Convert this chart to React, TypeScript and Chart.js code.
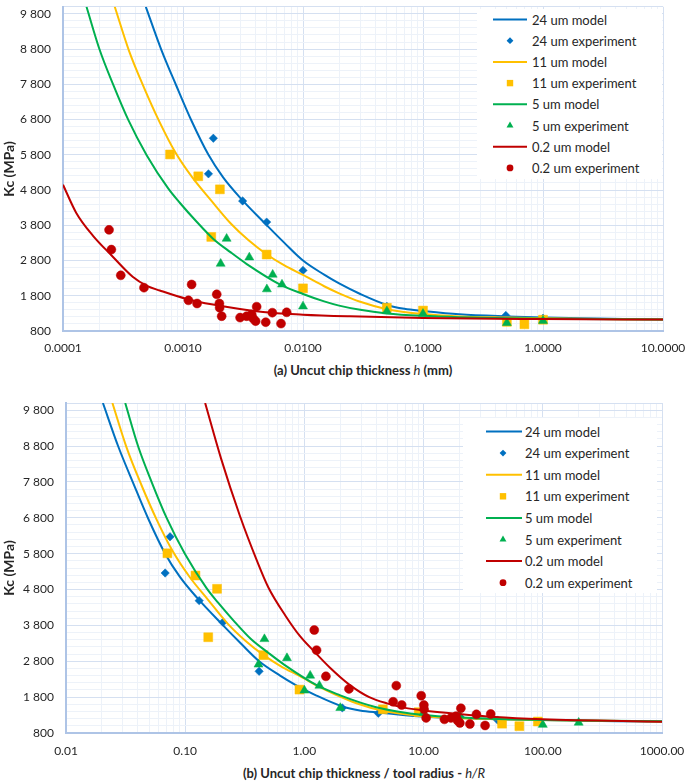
import React, { useEffect, useRef } from 'react';
import { Chart, registerables } from 'chart.js';

Chart.register(...registerables);

const FONT = "Lato, 'Open Sans', 'DejaVu Sans', sans-serif";
const TEXT = '#262626';
const GRID_MAJOR = '#d5e0f1';
const GRID_MINOR = '#edf2f9';
const AXIS_LINE = '#aec4e6';

const BLUE = '#0070C0';
const YELLOW = '#FFC000';
const GREEN = '#00B050';
const RED = '#C00000';

const SERIES_LABELS = [
  '24 um model',
  '24 um experiment',
  '11 um model',
  '11 um experiment',
  '5 um model',
  '5 um experiment',
  '0.2 um model',
  '0.2 um experiment',
];

// ---- axes ----
const Y_MIN = 800;
const Y_MAX = 10000;
const Y_MINOR_STEP = 200;
const Y_TICK_VALUES = [800, 1800, 2800, 3800, 4800, 5800, 6800, 7800, 8800, 9800];
const Y_TICK_LABELS = ['800', '1 800', '2 800', '3 800', '4 800', '5 800', '6 800', '7 800', '8 800', '9 800'];

const X_TOP_TICK_VALUES = [0.0001, 0.001, 0.01, 0.1, 1, 10];
const X_TOP_TICK_LABELS = ['0.0001', '0.0010', '0.0100', '0.1000', '1.0000', '10.0000'];
const X_BOTTOM_TICK_VALUES = [0.01, 0.1, 1, 10, 100, 1000];
const X_BOTTOM_TICK_LABELS = ['0.01', '0.10', '1.00', '10.00', '100.00', '1000.00'];

// ---- (a) Kc vs uncut chip thickness h (mm) ----
const A_BLUE_MODEL_H = [0.00049, 0.00066, 0.00088, 0.00118, 0.00163, 0.00216, 0.003, 0.005, 0.007, 0.01, 0.015, 0.02, 0.03, 0.05, 0.07, 0.1, 0.2, 0.5, 1, 10];
const A_BLUE_MODEL_K = [10000, 8780, 7760, 6760, 5800, 5160, 4580, 3800, 3300, 2800, 2400, 2150, 1850, 1540, 1430, 1370, 1275, 1215, 1185, 1125];
const A_BLUE_EXP_H = [0.00163, 0.00179, 0.00314, 0.00498, 0.01, 0.05, 0.1, 0.49, 1.0];
const A_BLUE_EXP_K = [5260, 6270, 4490, 3890, 2520, 1500, 1350, 1240, 1160];

const A_YELLOW_MODEL_H = [0.00027, 0.000355, 0.000474, 0.000634, 0.00086, 0.0012, 0.0017, 0.0025, 0.0035, 0.005, 0.007, 0.01, 0.015, 0.02, 0.03, 0.05, 0.1, 0.2, 0.5, 1, 10];
const A_YELLOW_MODEL_K = [10000, 8750, 7700, 6750, 5880, 5150, 4520, 3850, 3380, 2970, 2660, 2390, 2070, 1870, 1630, 1420, 1280, 1215, 1180, 1160, 1125];
const A_YELLOW_EXP_H = [0.00078, 0.00134, 0.00203, 0.00172, 0.00498, 0.01, 0.05, 0.1, 0.5, 0.7, 1.0];
const A_YELLOW_EXP_K = [5810, 5190, 4820, 3470, 2970, 2010, 1460, 1380, 1060, 990, 1120];

const A_GREEN_MODEL_H = [0.000157, 0.000202, 0.000262, 0.00035, 0.000498, 0.000755, 0.00094, 0.0013, 0.00178, 0.0025, 0.0034, 0.0064, 0.01, 0.015, 0.02, 0.03, 0.05, 0.1, 0.2, 0.5, 1, 10];
const A_GREEN_MODEL_K = [10000, 8780, 7790, 6790, 5790, 4840, 4440, 3900, 3420, 3030, 2700, 2125, 1850, 1640, 1520, 1400, 1300, 1230, 1190, 1160, 1150, 1125];
const A_GREEN_EXP_H = [0.00231, 0.00206, 0.00357, 0.00559, 0.00668, 0.005, 0.01, 0.05, 0.1, 0.5, 1.0];
const A_GREEN_EXP_K = [3420, 2710, 2890, 2400, 2120, 1985, 1500, 1365, 1290, 1030, 1090];

const A_RED_MODEL_H = [0.0001, 0.000129, 0.000178, 0.000253, 0.000383, 0.0005, 0.00064, 0.00107, 0.00178, 0.00464, 0.01, 0.0245, 0.1, 1, 10];
const A_RED_MODEL_K = [4950, 4150, 3500, 2950, 2330, 2080, 1950, 1710, 1550, 1336, 1264, 1217, 1170, 1140, 1125];
const A_RED_EXP_H = [0.000242, 0.000253, 0.000303, 0.000473, 0.00118, 0.00111, 0.00131, 0.00191, 0.00201, 0.00202, 0.0021, 0.00299, 0.00339, 0.00374, 0.00411, 0.00385, 0.00403, 0.00489, 0.00555, 0.00656, 0.00731];
const A_RED_EXP_K = [3670, 3110, 2380, 2030, 2120, 1670, 1580, 1840, 1580, 1460, 1220, 1180, 1220, 1270, 1490, 1150, 1080, 1050, 1320, 1010, 1330];

// ---- (b) Kc vs uncut chip thickness / tool radius h/R ----
const B_BLUE_MODEL_X = [0.0204, 0.0275, 0.0367, 0.0492, 0.0679, 0.09, 0.125, 0.208, 0.292, 0.417, 0.625, 0.833, 1.25, 2.08, 2.92, 4.17, 8.33, 20.8, 41.7, 417, 1000];
const B_BLUE_MODEL_K = [10000, 8780, 7760, 6760, 5800, 5160, 4580, 3800, 3300, 2800, 2400, 2150, 1850, 1540, 1430, 1370, 1275, 1215, 1185, 1125, 1120];
const B_BLUE_EXP_X = [0.0679, 0.0746, 0.131, 0.2075, 0.417, 2.08, 4.17, 20.4, 41.7];
const B_BLUE_EXP_K = [5260, 6270, 4490, 3890, 2520, 1500, 1350, 1240, 1160];

const B_YELLOW_MODEL_X = [0.0245, 0.0323, 0.0431, 0.0576, 0.0782, 0.109, 0.155, 0.227, 0.318, 0.455, 0.636, 0.909, 1.36, 1.82, 2.73, 4.55, 9.09, 18.2, 45.5, 90.9, 1000];
const B_YELLOW_MODEL_K = [10000, 8750, 7700, 6750, 5880, 5150, 4520, 3850, 3380, 2970, 2660, 2390, 2070, 1870, 1630, 1420, 1280, 1215, 1180, 1160, 1122];
const B_YELLOW_EXP_X = [0.0709, 0.122, 0.185, 0.156, 0.453, 0.909, 4.55, 9.09, 45.5, 63.6, 90.9];
const B_YELLOW_EXP_K = [5810, 5190, 4820, 3470, 2970, 2010, 1460, 1380, 1060, 990, 1120];

const B_GREEN_MODEL_X = [0.0314, 0.0404, 0.0524, 0.07, 0.0996, 0.151, 0.188, 0.26, 0.356, 0.5, 0.68, 1.28, 2, 3, 4, 6, 10, 20, 40, 100, 200, 1000];
const B_GREEN_MODEL_K = [10000, 8780, 7790, 6790, 5790, 4840, 4440, 3900, 3420, 3030, 2700, 2125, 1850, 1640, 1520, 1400, 1300, 1230, 1190, 1160, 1150, 1128];
const B_GREEN_EXP_X = [0.462, 0.412, 0.714, 1.118, 1.336, 1.0, 2.0, 10, 20, 100, 200];
const B_GREEN_EXP_K = [3420, 2710, 2890, 2400, 2120, 1985, 1500, 1365, 1290, 1030, 1090];

const B_RED_MODEL_X = [0.147, 0.2, 0.288, 0.398, 0.5, 0.7, 0.919, 1.227, 1.64, 2.38, 3.5, 5, 7, 10, 20, 40, 100, 1000];
const B_RED_MODEL_K = [10000, 8450, 6850, 5620, 4850, 4050, 3500, 3050, 2620, 2150, 1800, 1620, 1500, 1430, 1330, 1245, 1185, 1115];
const B_RED_EXP_X = [1.21, 1.265, 1.515, 2.365, 5.9, 5.55, 6.55, 9.55, 10.05, 10.1, 10.5, 14.95, 16.95, 18.7, 20.55, 19.25, 20.15, 24.45, 27.75, 32.8, 36.55];
const B_RED_EXP_K = [3670, 3110, 2380, 2030, 2120, 1670, 1580, 1840, 1580, 1460, 1220, 1180, 1220, 1270, 1490, 1150, 1080, 1050, 1320, 1010, 1330];

type SeriesSpec = {
  x: number[];
  y: number[];
  kind: 'line' | 'point';
  color: string;
  style?: string;
  radius?: number;
};

const STYLE = [
  { kind: 'line', color: BLUE },
  { kind: 'point', color: BLUE, style: 'rectRot', radius: 4.2 },
  { kind: 'line', color: YELLOW },
  { kind: 'point', color: YELLOW, style: 'rect', radius: 6.3 },
  { kind: 'line', color: GREEN },
  { kind: 'point', color: GREEN, style: 'triangle', radius: 5.2 },
  { kind: 'line', color: RED },
  { kind: 'point', color: RED, style: 'circle', radius: 4.5 },
];

function makeSeries(pairs: [number[], number[]][]): SeriesSpec[] {
  return pairs.map(([x, y], i) => ({ x, y, ...(STYLE[i] as any) }));
}

const SERIES_A = makeSeries([
  [A_BLUE_MODEL_H, A_BLUE_MODEL_K],
  [A_BLUE_EXP_H, A_BLUE_EXP_K],
  [A_YELLOW_MODEL_H, A_YELLOW_MODEL_K],
  [A_YELLOW_EXP_H, A_YELLOW_EXP_K],
  [A_GREEN_MODEL_H, A_GREEN_MODEL_K],
  [A_GREEN_EXP_H, A_GREEN_EXP_K],
  [A_RED_MODEL_H, A_RED_MODEL_K],
  [A_RED_EXP_H, A_RED_EXP_K],
]);

const SERIES_B = makeSeries([
  [B_BLUE_MODEL_X, B_BLUE_MODEL_K],
  [B_BLUE_EXP_X, B_BLUE_EXP_K],
  [B_YELLOW_MODEL_X, B_YELLOW_MODEL_K],
  [B_YELLOW_EXP_X, B_YELLOW_EXP_K],
  [B_GREEN_MODEL_X, B_GREEN_MODEL_K],
  [B_GREEN_EXP_X, B_GREEN_EXP_K],
  [B_RED_MODEL_X, B_RED_MODEL_K],
  [B_RED_EXP_X, B_RED_EXP_K],
]);

function logGrid(decades: number[]): number[] {
  const out: number[] = [];
  for (let i = 0; i < decades.length - 1; i++) {
    for (let m = 1; m <= 9; m++) out.push(Number((decades[i] * m).toPrecision(6)));
  }
  out.push(decades[decades.length - 1]);
  return out;
}

function linearGrid(): number[] {
  const out: number[] = [];
  for (let v = Y_MIN; v <= Y_MAX; v += Y_MINOR_STEP) out.push(v);
  return out;
}

function findIndex(values: number[], v: number): number {
  return values.findIndex((d) => Math.abs(v / d - 1) < 1e-6);
}

type PanelSpec = {
  series: SeriesSpec[];
  xTicks: number[];
  xLabels: string[];
  yAxisWidth: number;
  padRight: number;
  padTop: number;
  xAxisHeight: number;
  xTickPad: number;
  height: number;
};

function buildConfig(p: PanelSpec): any {
  const xGrid = logGrid(p.xTicks);
  const yGrid = linearGrid();
  const datasets = p.series.map((s, i) => {
    const data = s.x.map((xv, j) => ({ x: xv, y: s.y[j] }));
    const order = 8 - i;
    if (s.kind === 'line') {
      return {
        label: SERIES_LABELS[i],
        data,
        showLine: true,
        borderColor: s.color,
        backgroundColor: s.color,
        borderWidth: 2,
        pointRadius: 0,
        pointHoverRadius: 0,
        cubicInterpolationMode: 'monotone',
        fill: false,
        order,
      };
    }
    return {
      label: SERIES_LABELS[i],
      data,
      showLine: false,
      pointStyle: s.style,
      pointRadius: s.radius,
      pointHoverRadius: s.radius,
      pointBackgroundColor: s.color,
      pointBorderColor: s.color,
      pointBorderWidth: 0.5,
      clip: false,
      order,
    };
  });

  return {
    type: 'scatter',
    data: { datasets },
    options: {
      responsive: false,
      animation: false,
      events: [],
      layout: { padding: { left: 0, right: p.padRight, top: p.padTop, bottom: 0 } },
      plugins: { legend: { display: false }, tooltip: { enabled: false } },
      scales: {
        x: {
          type: 'logarithmic',
          min: p.xTicks[0],
          max: p.xTicks[p.xTicks.length - 1],
          afterBuildTicks: (axis: any) => {
            axis.ticks = xGrid.map((v) => ({ value: v }));
          },
          afterFit: (axis: any) => {
            axis.height = p.xAxisHeight;
            axis.paddingLeft = 0;
            axis.paddingRight = 0;
          },
          ticks: {
            autoSkip: false,
            maxRotation: 0,
            minRotation: 0,
            padding: p.xTickPad,
            color: TEXT,
            font: { family: FONT, size: 12 },
            callback: (v: number) => {
              const k = findIndex(p.xTicks, v);
              return k >= 0 ? p.xLabels[k] : '';
            },
          },
          grid: {
            drawTicks: false,
            lineWidth: 1,
            color: (ctx: any) => (ctx.tick && findIndex(p.xTicks, ctx.tick.value) >= 0 ? GRID_MAJOR : GRID_MINOR),
          },
          border: { color: AXIS_LINE, width: 2 },
        },
        y: {
          type: 'linear',
          min: Y_MIN,
          max: Y_MAX,
          afterBuildTicks: (axis: any) => {
            axis.ticks = yGrid.map((v) => ({ value: v }));
          },
          afterFit: (axis: any) => {
            axis.width = p.yAxisWidth;
            axis.paddingTop = 0;
            axis.paddingBottom = 0;
          },
          ticks: {
            autoSkip: false,
            padding: 12,
            color: TEXT,
            font: { family: FONT, size: 12 },
            callback: (v: number) => {
              const k = Y_TICK_VALUES.indexOf(v);
              return k >= 0 ? Y_TICK_LABELS[k] : '';
            },
          },
          grid: {
            drawTicks: false,
            lineWidth: 1,
            color: (ctx: any) =>
              ctx.tick && (Y_TICK_VALUES.indexOf(ctx.tick.value) >= 0 || ctx.tick.value === Y_MAX) ? GRID_MAJOR : GRID_MINOR,
          },
          border: { color: AXIS_LINE, width: 2 },
          title: {
            display: true,
            text: 'Kc (MPa)',
            color: TEXT,
            font: { family: FONT, size: 14, weight: 'bold' },
            padding: { top: 1, bottom: 0 },
          },
        },
      },
    },
  };
}

function Panel({ spec, top }: { spec: PanelSpec; top: number }) {
  const ref = useRef<HTMLCanvasElement>(null);
  useEffect(() => {
    const chart = new Chart(ref.current as HTMLCanvasElement, buildConfig(spec));
    return () => chart.destroy();
  }, []);
  return (
    <canvas
      ref={ref}
      width={685}
      height={spec.height}
      style={{ position: 'absolute', left: 0, top, width: 685, height: spec.height }}
    />
  );
}

function Marker({ style, color, cx, cy }: { style: string; color: string; cx: number; cy: number }) {
  if (style === 'rectRot') {
    const r = 3.4;
    return <polygon points={`${cx},${cy - r} ${cx + r},${cy} ${cx},${cy + r} ${cx - r},${cy}`} fill={color} />;
  }
  if (style === 'rect') {
    const h = 3.2;
    return <rect x={cx - h} y={cy - h} width={2 * h} height={2 * h} fill={color} />;
  }
  if (style === 'triangle') {
    const r = 4;
    return (
      <polygon
        points={`${cx},${cy - r} ${cx + r * 0.866},${cy + r * 0.5} ${cx - r * 0.866},${cy + r * 0.5}`}
        fill={color}
      />
    );
  }
  return <circle cx={cx} cy={cy} r={3.4} fill={color} />;
}

function Legend(props: {
  left: number;
  top: number;
  width: number;
  height: number;
  firstRow: number;
  rowH: number;
  lineX0: number;
  lineX1: number;
  markerX: number;
  textX: number;
}) {
  const { left, top, width, height, firstRow, rowH, lineX0, lineX1, markerX, textX } = props;
  return (
    <div style={{ position: 'absolute', left, top, width, height, background: '#fff' }}>
      <svg width={width} height={height} style={{ position: 'absolute', left: 0, top: 0 }}>
        {STYLE.map((s: any, i) => {
          const cy = firstRow - top + i * rowH;
          if (s.kind === 'line') {
            return <line key={i} x1={lineX0 - left} x2={lineX1 - left} y1={cy} y2={cy} stroke={s.color} strokeWidth={2} />;
          }
          return <Marker key={i} style={s.style} color={s.color} cx={markerX - left} cy={cy} />;
        })}
      </svg>
      {SERIES_LABELS.map((lab, i) => (
        <div
          key={lab}
          style={{
            position: 'absolute',
            left: textX - left,
            top: firstRow - top + i * rowH - 10,
            height: 20,
            lineHeight: '20px',
            fontSize: 13,
            color: TEXT,
            whiteSpace: 'nowrap',
          }}
        >
          {lab}
        </div>
      ))}
    </div>
  );
}

const SPEC_A: PanelSpec = {
  series: SERIES_A,
  xTicks: X_TOP_TICK_VALUES,
  xLabels: X_TOP_TICK_LABELS,
  yAxisWidth: 63,
  padRight: 22,
  padTop: 0,
  xAxisHeight: 29,
  xTickPad: 10,
  height: 360,
};

const SPEC_B: PanelSpec = {
  series: SERIES_B,
  xTicks: X_BOTTOM_TICK_VALUES,
  xLabels: X_BOTTOM_TICK_LABELS,
  yAxisWidth: 66,
  padRight: 23,
  padTop: 13,
  xAxisHeight: 30,
  xTickPad: 11,
  height: 373,
};

export default function App() {
  return (
    <div
      style={{
        position: 'absolute',
        left: 0,
        top: 0,
        width: 685,
        height: 781,
        overflow: 'hidden',
        background: '#fff',
        fontFamily: FONT,
        color: TEXT,
      }}
    >
      <Panel spec={SPEC_A} top={0} />
      <Legend left={477} top={9} width={185} height={170} firstRow={19.5} rowH={21.2} lineX0={493} lineX1={527} markerX={510} textX={532} />
      <div
        style={{
          position: 'absolute',
          left: 63,
          width: 600,
          top: 361,
          height: 18,
          lineHeight: '18px',
          textAlign: 'center',
          fontWeight: 'bold',
          fontSize: 13,
          whiteSpace: 'nowrap',
        }}
      >
        (a) Uncut chip thickness <span style={{ fontStyle: 'italic', fontWeight: 'normal' }}>h</span> (mm)
      </div>

      <Panel spec={SPEC_B} top={390} />
      <Legend left={463} top={418} width={194} height={175} firstRow={431.5} rowH={21.6} lineX0={486} lineX1={522} markerX={503} textX={525} />
      <div
        style={{
          position: 'absolute',
          left: 66,
          width: 596,
          top: 764,
          height: 18,
          lineHeight: '18px',
          textAlign: 'center',
          fontWeight: 'bold',
          fontSize: 13,
          whiteSpace: 'nowrap',
        }}
      >
        (b) Uncut chip thickness / tool radius - <span style={{ fontStyle: 'italic', fontWeight: 'normal' }}>h/R</span>
      </div>
    </div>
  );
}
